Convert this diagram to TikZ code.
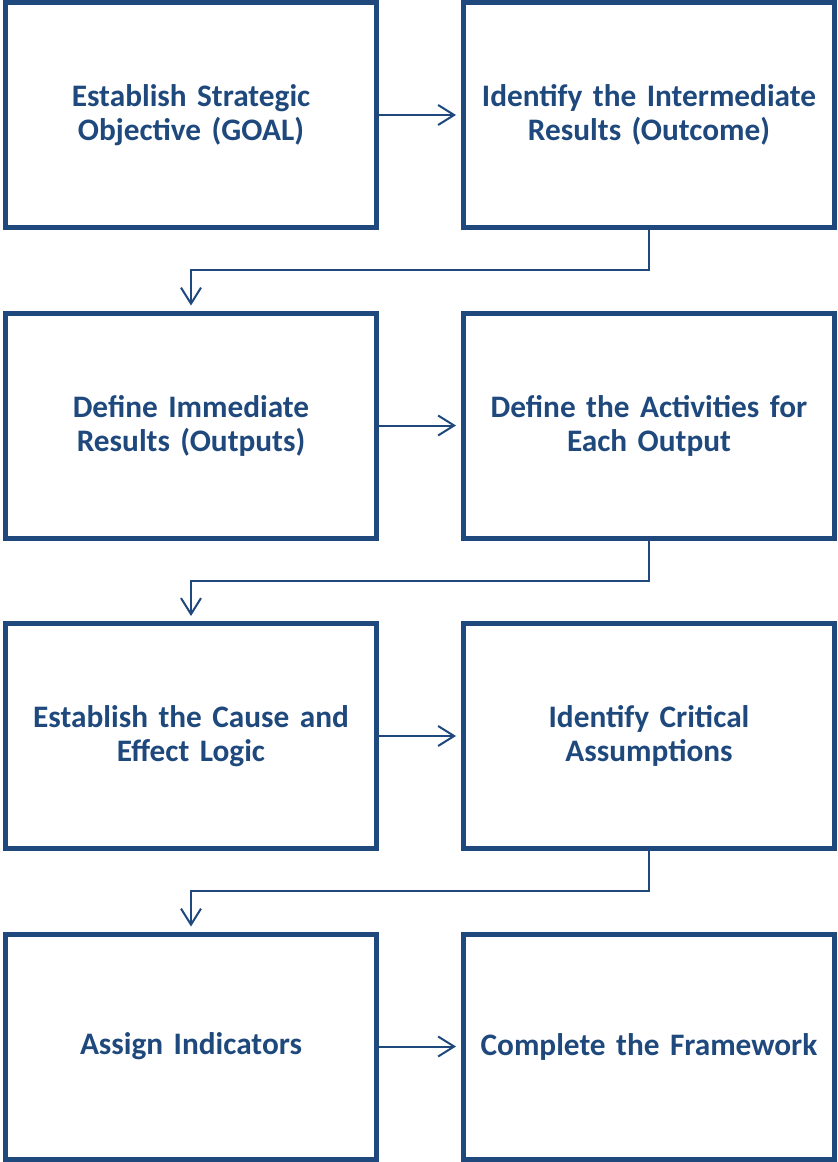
\documentclass[tikz,border=0pt]{standalone}
\usepackage{fontspec}
\setmainfont{Carlito}
\usepackage{xcolor}
\usepackage{tikz}
\usetikzlibrary{calc,positioning,arrows.meta}
\definecolor{frameblue}{RGB}{31,73,125}

\begin{document}
\begin{tikzpicture}[x=1pt,y=1pt,
  stepbox/.style={draw=frameblue,line width=5pt,minimum width=371pt,minimum height=225pt,
    text width=360pt,align=center,text=frameblue,
    font=\fontsize{31.3}{34}\selectfont\bfseries},
  link/.style={draw=frameblue,line width=2pt,-{Straight Barb[length=16pt,width=20pt,line width=2pt]},shorten >=5pt}]
\useasboundingbox (0,0) rectangle (838,-1162);

% Row 1
\node[stepbox] (goal) at (191,-115) {Establish Strategic\\Objective (GOAL)};
\node[stepbox,right=82pt of goal] (outcome) {Identify the Intermediate\\Results (Outcome)};
\draw[link] (goal.east) -- (outcome.west);

% Row 2
\node[stepbox,below=80.5pt of goal] (outputs) {Define Immediate\\Results (Outputs)};
\node[stepbox,right=82pt of outputs] (activities) {Define the Activities for\\Each Output};
\draw[link] (outcome.south) |- ($(outcome.south)!.5!(outputs.north)$) -| (outputs.north);
\draw[link] (outputs.east) -- (activities.west);

% Row 3
\node[stepbox,below=80.5pt of outputs] (logic) {Establish the Cause and\\Effect Logic};
\node[stepbox,right=82pt of logic] (assump) {Identify Critical\\Assumptions};
\draw[link] (activities.south) |- ($(activities.south)!.5!(logic.north)$) -| (logic.north);
\draw[link] (logic.east) -- (assump.west);

% Row 4
\node[stepbox,below=80.5pt of logic] (indic) {Assign Indicators};
\node[stepbox,right=82pt of indic] (frame) {Complete the Framework};
\draw[link] (assump.south) |- ($(assump.south)!.5!(indic.north)$) -| (indic.north);
\draw[link] (indic.east) -- (frame.west);
\end{tikzpicture}
\end{document}
